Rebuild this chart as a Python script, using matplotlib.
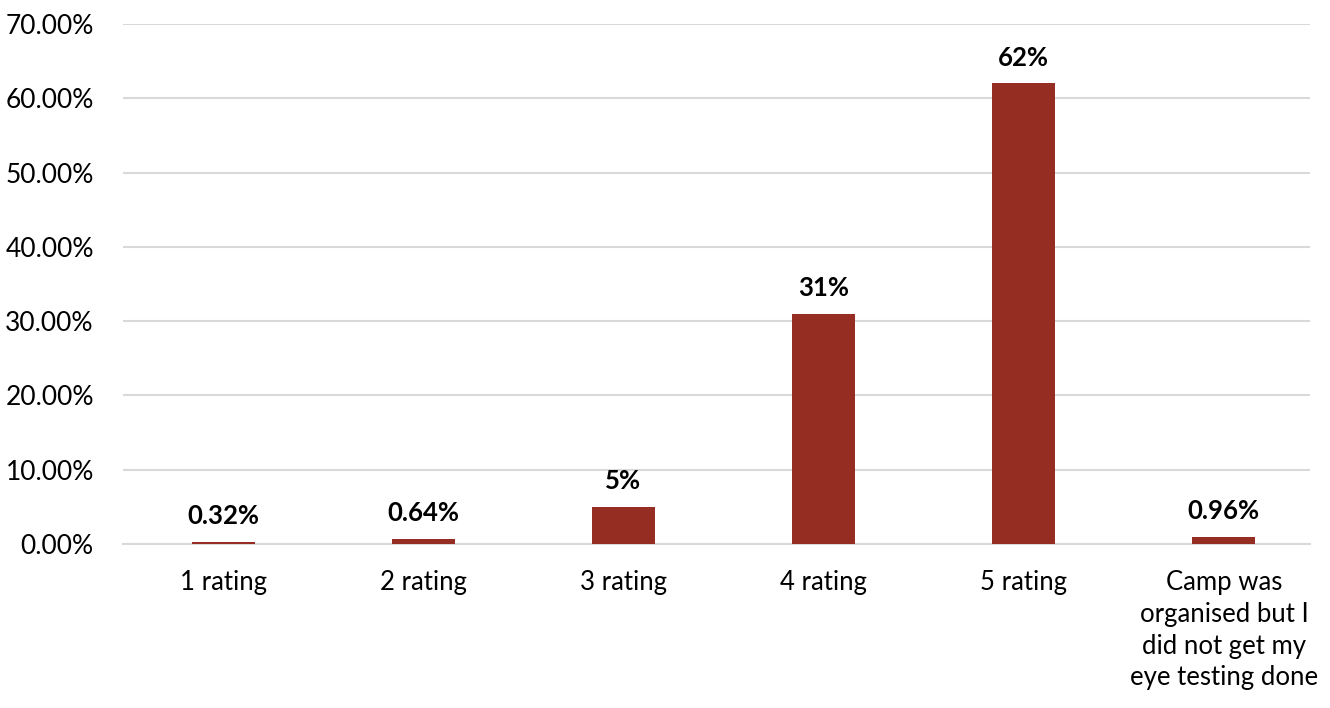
import matplotlib
matplotlib.use("Agg")
import matplotlib.pyplot as plt
from matplotlib.ticker import FuncFormatter

categories = ["1 rating", "2 rating", "3 rating", "4 rating", "5 rating",
              "Camp was\norganised but I\ndid not get my\neye testing done"]
values = [0.32, 0.64, 5, 31, 62, 0.96]
labels = ["0.32%", "0.64%", "5%", "31%", "62%", "0.96%"]

plt.rcParams['font.family'] = ['Lato', 'DejaVu Sans']

fig = plt.figure(figsize=(13.3, 7.08), dpi=100)
ax = fig.add_axes([123 / 1330, 164 / 708, (1310 - 123) / 1330, 520 / 708])

x = range(len(categories))
bars = ax.bar(x, values, width=0.315, color="#952D22", zorder=3)

for b, lab in zip(bars, labels):
    ax.annotate(lab, (b.get_x() + b.get_width() / 2, b.get_height()),
                xytext=(0, 10), textcoords="offset points",
                ha="center", va="bottom", fontsize=18.5, fontweight="bold",
                color="#000000")

ax.set_xlim(-0.5, 5.43)
ax.set_ylim(0, 70)
ax.set_yticks(range(0, 71, 10))
ax.yaxis.set_major_formatter(FuncFormatter(lambda v, p: f"{v:.2f}%"))
ax.set_xticks(list(x))
ax.set_xticklabels(categories, fontsize=18.5, linespacing=1.33)
ax.tick_params(axis="y", labelsize=19, length=0, pad=21)
ax.tick_params(axis="x", length=0, pad=19)

ax.grid(axis="y", color="#D9D9D9", linewidth=1.5, zorder=0)
for s in ["top", "right", "left"]:
    ax.spines[s].set_visible(False)
ax.spines["bottom"].set_color("#D9D9D9")
ax.spines["bottom"].set_linewidth(1.5)

fig.savefig("out.png", dpi=100)
